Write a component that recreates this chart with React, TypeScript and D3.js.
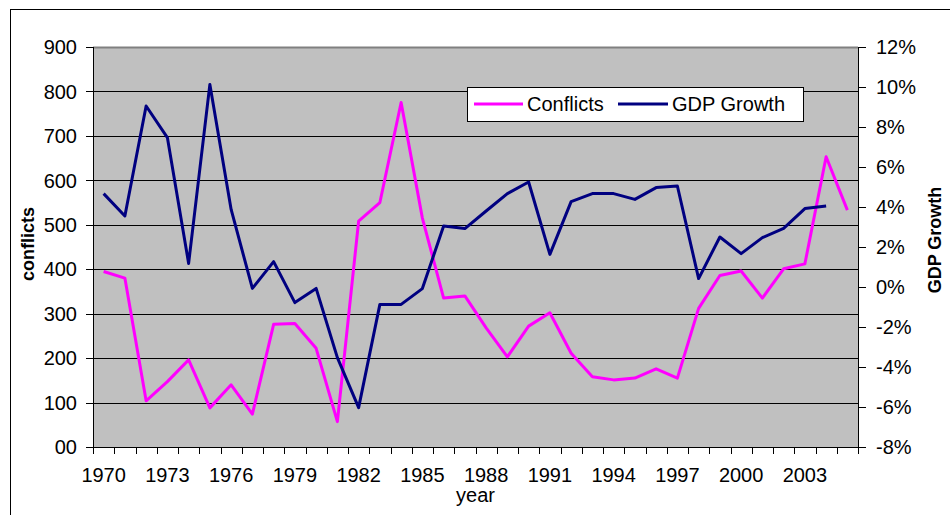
import React, { useEffect, useRef } from 'react';
import * as d3 from 'd3';

const years = [
  1970, 1971, 1972, 1973, 1974, 1975, 1976, 1977, 1978, 1979,
  1980, 1981, 1982, 1983, 1984, 1985, 1986, 1987, 1988, 1989,
  1990, 1991, 1992, 1993, 1994, 1995, 1996, 1997, 1998, 1999,
  2000, 2001, 2002, 2003, 2004, 2005,
];

// number of conflicts per year (left axis)
const conflicts = [
  395, 380, 104, 147, 196, 88, 140, 74, 276, 278,
  222, 57, 508, 550, 775, 515, 335, 340, 268, 203,
  272, 302, 211, 158, 151, 155, 176, 155, 312, 386,
  396, 335, 401, 412, 653, 533,
];

// GDP growth in percent (right axis), no value for 2005
const gdpGrowth: (number | null)[] = [
  4.67, 3.55, 9.05, 7.47, 1.18, 10.13, 3.88, -0.07, 1.27, -0.78,
  -0.07, -3.53, -6.03, -0.87, -0.87, -0.08, 3.05, 2.92, 3.8, 4.67,
  5.25, 1.63, 4.27, 4.67, 4.67, 4.38, 4.97, 5.05, 0.42, 2.5,
  1.67, 2.47, 2.93, 3.92, 4.05, null,
];

const leftTicks = [0, 100, 200, 300, 400, 500, 600, 700, 800, 900];
const rightTicks = [-8, -6, -4, -2, 0, 2, 4, 6, 8, 10, 12];
const yearLabels = [1970, 1973, 1976, 1979, 1982, 1985, 1988, 1991, 1994, 1997, 2000, 2003];

const W = 950;
const H = 515;
const FONT = '"Liberation Sans", Arial, sans-serif';

const App: React.FC = () => {
  const svgRef = useRef<SVGSVGElement | null>(null);

  useEffect(() => {
    if (!svgRef.current) return;
    const svg = d3.select(svgRef.current);
    svg.selectAll('*').remove();

    const left = 93, right = 858, top = 47, bottom = 447;

    const x = d3.scaleBand<number>().domain(years).range([left, right]).padding(0);
    const cx = (yr: number) => (x(yr) as number) + x.bandwidth() / 2;
    const yL = d3.scaleLinear().domain([0, 900]).range([bottom, top]);
    const yR = d3.scaleLinear().domain([-8, 12]).range([bottom, top]);

    // outer chart frame (runs off the right/bottom edge)
    svg.append('rect')
      .attr('x', 10.5).attr('y', 9.5)
      .attr('width', 1000).attr('height', 600)
      .attr('fill', 'white').attr('stroke', 'black').attr('stroke-width', 1);

    // plot area
    svg.append('rect')
      .attr('x', left).attr('y', top)
      .attr('width', right - left).attr('height', bottom - top)
      .attr('fill', '#C0C0C0');

    // gridlines
    svg.append('g').selectAll('line')
      .data(leftTicks.filter(t => t > 0 && t < 900))
      .enter().append('line')
      .attr('x1', left).attr('x2', right)
      .attr('y1', d => Math.round(yL(d)) + 0.5).attr('y2', d => Math.round(yL(d)) + 0.5)
      .attr('stroke', 'black').attr('stroke-width', 1);

    svg.append('line')
      .attr('x1', left).attr('x2', right)
      .attr('y1', top + 0.5).attr('y2', top + 0.5)
      .attr('stroke', '#808080').attr('stroke-width', 2);

    // left axis
    const gl = svg.append('g');
    gl.append('line').attr('x1', left + 0.5).attr('x2', left + 0.5).attr('y1', top).attr('y2', bottom)
      .attr('stroke', 'black');
    gl.selectAll('.tk').data(leftTicks).enter().append('line')
      .attr('x1', left - 7).attr('x2', left)
      .attr('y1', d => Math.round(yL(d)) + 0.5).attr('y2', d => Math.round(yL(d)) + 0.5)
      .attr('stroke', 'black');
    gl.selectAll('text').data(leftTicks).enter().append('text')
      .attr('x', 77).attr('y', d => yL(d))
      .attr('dy', '0.36em')
      .attr('text-anchor', 'end')
      .style('font-family', FONT).style('font-size', '20px')
      .text(d => (d === 0 ? '00' : String(d)));

    // right axis
    const gr = svg.append('g');
    gr.append('line').attr('x1', right + 0.5).attr('x2', right + 0.5).attr('y1', top).attr('y2', bottom)
      .attr('stroke', 'black');
    gr.selectAll('.tk').data(rightTicks).enter().append('line')
      .attr('x1', right).attr('x2', right + 8)
      .attr('y1', d => Math.round(yR(d)) + 0.5).attr('y2', d => Math.round(yR(d)) + 0.5)
      .attr('stroke', 'black');
    gr.selectAll('text').data(rightTicks).enter().append('text')
      .attr('x', 876).attr('y', d => yR(d))
      .attr('dy', '0.36em')
      .attr('text-anchor', 'start')
      .style('font-family', FONT).style('font-size', '20px')
      .text(d => `${d}%`);

    // bottom axis
    const gb = svg.append('g');
    gb.append('line').attr('x1', left).attr('x2', right).attr('y1', bottom + 0.5).attr('y2', bottom + 0.5)
      .attr('stroke', 'black');
    const edges = years.map(yr => x(yr) as number).concat([right]);
    gb.selectAll('.tk').data(edges).enter().append('line')
      .attr('x1', d => Math.round(d) + 0.5).attr('x2', d => Math.round(d) + 0.5)
      .attr('y1', bottom).attr('y2', bottom + 7)
      .attr('stroke', 'black');
    gb.selectAll('text').data(yearLabels).enter().append('text')
      .attr('x', d => cx(d)).attr('y', 482)
      .attr('text-anchor', 'middle')
      .style('font-family', FONT).style('font-size', '20px')
      .text(d => String(d));

    // axis titles
    svg.append('text')
      .attr('x', (left + right) / 2).attr('y', 502)
      .attr('text-anchor', 'middle')
      .style('font-family', FONT).style('font-size', '20px')
      .text('year');
    svg.append('text')
      .attr('transform', 'translate(34,244) rotate(-90)')
      .attr('text-anchor', 'middle')
      .style('font-family', FONT).style('font-size', '18px').style('font-weight', 'bold')
      .text('conflicts');
    svg.append('text')
      .attr('transform', 'translate(941,240) rotate(-90)')
      .attr('text-anchor', 'middle')
      .style('font-family', FONT).style('font-size', '18px').style('font-weight', 'bold')
      .text('GDP Growth');

    // lines
    const conflictLine = d3.line<number>()
      .x((_, i) => cx(years[i]))
      .y(d => yL(d));
    svg.append('path')
      .attr('d', conflictLine(conflicts))
      .attr('fill', 'none').attr('stroke', '#FF00FF').attr('stroke-width', 3)
      .attr('stroke-linejoin', 'round');

    const gdpLine = d3.line<number | null>()
      .defined(d => d !== null)
      .x((_, i) => cx(years[i]))
      .y(d => yR(d as number));
    svg.append('path')
      .attr('d', gdpLine(gdpGrowth))
      .attr('fill', 'none').attr('stroke', '#000080').attr('stroke-width', 3)
      .attr('stroke-linejoin', 'round');

    // legend
    const lg = svg.append('g');
    lg.append('rect')
      .attr('x', 467.5).attr('y', 87.5).attr('width', 336).attr('height', 34)
      .attr('fill', 'white').attr('stroke', 'black').attr('stroke-width', 1);
    const items = [
      { name: 'Conflicts', color: '#FF00FF', x0: 474, x1: 523, tx: 527 },
      { name: 'GDP Growth', color: '#000080', x0: 618, x1: 668, tx: 672 },
    ];
    items.forEach(it => {
      lg.append('line')
        .attr('x1', it.x0).attr('x2', it.x1).attr('y1', 104).attr('y2', 104)
        .attr('stroke', it.color).attr('stroke-width', 3);
      lg.append('text')
        .attr('x', it.tx).attr('y', 111)
        .style('font-family', FONT).style('font-size', '20px')
        .text(it.name);
    });
  }, []);

  return (
    <svg
      ref={svgRef}
      width={W}
      height={H}
      style={{ position: 'absolute', left: 0, top: 0, background: 'white' }}
    />
  );
};

export default App;
